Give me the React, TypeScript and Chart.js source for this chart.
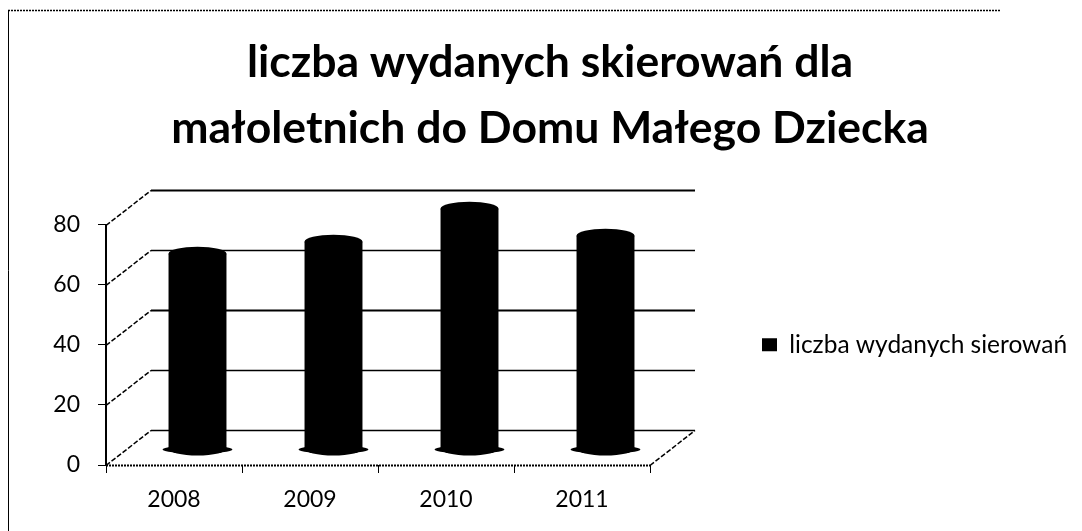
import React, { useEffect, useRef } from "react";
import { Chart, registerables } from "chart.js";

Chart.register(...registerables);

const years = ["2008", "2009", "2010", "2011"];
const referrals = [65, 69, 80, 71];
const yTicks = [0, 20, 40, 60, 80];
const titleLines = ["liczba wydanych skierowań dla", "małoletnich do Domu Małego Dziecka"];
const seriesName = "liczba wydanych sierowań";
const FONT = "Lato, Carlito, 'Open Sans', sans-serif";
const DEPTH_X = 45;
const DEPTH_Y = 35;
const BAR_DX = 23.5;
const BAR_DY = -16;
const ELLIPSE_RY = 7;

const depthPlugin = {
  id: "depth",
  beforeLayout(chart: any) {
    const legend = chart.legend;
    if (legend && !legend.__wrapped) {
      const fit = legend.fit;
      legend.fit = function () {
        fit.call(this);
        this.width = 432;
      };
      legend.__wrapped = true;
    }
  },
  afterLayout(chart: any) {
    const { legend, chartArea, titleBlock } = chart;
    legend.left = 752;
    legend.right = 1082;
    const mid = (chartArea.top + chartArea.bottom) / 2;
    legend.top = mid - legend.height / 2;
    legend.bottom = mid + legend.height / 2;
    titleBlock.left += 9;
    titleBlock.right += 9;
  },
  beforeDraw(chart: any) {
    const { ctx } = chart;
    ctx.save();
    ctx.fillStyle = "#ffffff";
    ctx.fillRect(0, 0, chart.width, chart.height);
    ctx.strokeStyle = "#000000";
    ctx.lineWidth = 1;
    ctx.beginPath();
    ctx.moveTo(8.5, 10);
    ctx.lineTo(8.5, 531);
    ctx.stroke();
    ctx.setLineDash([2, 1]);
    ctx.lineWidth = 1.5;
    ctx.beginPath();
    ctx.moveTo(8, 10.5);
    ctx.lineTo(1000, 10.5);
    ctx.stroke();
    ctx.restore();
  },
  beforeDatasetsDraw(chart: any) {
    const { ctx, chartArea, scales } = chart;
    const { left, right } = chartArea;
    const y = scales.y;
    ctx.save();
    ctx.strokeStyle = "#000000";
    yTicks.forEach((v) => {
      const py = Math.round(y.getPixelForValue(v)) + 0.5;
      ctx.lineWidth = 1.5;
      ctx.setLineDash([5, 2]);
      ctx.beginPath();
      ctx.moveTo(left, py);
      ctx.lineTo(left + DEPTH_X, py - DEPTH_Y);
      ctx.stroke();
      ctx.setLineDash([]);
      ctx.lineWidth = v === 40 || v === 80 ? 2 : 1.4;
      ctx.beginPath();
      ctx.moveTo(left + DEPTH_X, py - DEPTH_Y);
      ctx.lineTo(right + DEPTH_X, py - DEPTH_Y);
      ctx.stroke();
    });
    const base = Math.round(y.getPixelForValue(0)) + 0.5;
    ctx.lineWidth = 1.5;
    ctx.setLineDash([5, 2]);
    ctx.beginPath();
    ctx.moveTo(right, base);
    ctx.lineTo(right + DEPTH_X, base - DEPTH_Y);
    ctx.stroke();
    ctx.setLineDash([2, 1]);
    ctx.lineWidth = 2;
    ctx.beginPath();
    ctx.moveTo(left, base);
    ctx.lineTo(right, base);
    ctx.stroke();
    ctx.restore();
  },
  beforeDatasetDraw(chart: any) {
    chart.ctx.save();
    chart.ctx.translate(BAR_DX, BAR_DY);
  },
  afterDatasetDraw(chart: any, args: any) {
    const { ctx } = chart;
    const meta = chart.getDatasetMeta(args.index);
    ctx.fillStyle = "#000000";
    meta.data.forEach((bar: any) => {
      const rx = bar.width / 2;
      ctx.beginPath();
      ctx.ellipse(bar.x, bar.y, rx, ELLIPSE_RY, 0, 0, Math.PI * 2);
      ctx.fill();
      ctx.beginPath();
      ctx.ellipse(bar.x, bar.base, rx, ELLIPSE_RY, 0, 0, Math.PI * 2);
      ctx.fill();
      ctx.beginPath();
      ctx.ellipse(bar.x, bar.base + 1, rx + 6, 4, 0, 0, Math.PI * 2);
      ctx.fill();
    });
    ctx.restore();
  },
};

export default function App() {
  const ref = useRef<HTMLCanvasElement>(null);
  useEffect(() => {
    const chart = new Chart(ref.current as HTMLCanvasElement, {
      type: "bar",
      data: {
        labels: years,
        datasets: [
          {
            label: seriesName,
            data: referrals,
            backgroundColor: "#000000",
            borderWidth: 0,
            barPercentage: 0.426,
            categoryPercentage: 1,
            clip: false,
          } as any,
        ],
      },
      plugins: [depthPlugin],
      options: {
        responsive: false,
        animation: false,
        layout: { padding: { top: 0, left: 0, right: 0, bottom: 0 } },
        plugins: {
          tooltip: { enabled: false },
          title: {
            display: true,
            text: titleLines,
            color: "#000000",
            font: { family: FONT, size: 44.5, weight: "bold", lineHeight: 1.48 },
            padding: { top: 30, bottom: 63 },
          },
          legend: {
            display: true,
            position: "right",
            labels: {
              color: "#000000",
              font: { family: FONT, size: 24.5 },
              boxWidth: 15,
              boxHeight: 13,
              padding: 10,
            },
          },
        },
        scales: {
          x: {
            afterFit(s: any) {
              s.height = 66;
            },
            grid: {
              drawOnChartArea: false,
              drawTicks: true,
              tickLength: 8,
              color: "#000000",
              offset: true,
            },
            border: { color: "#000000", display: false },
            ticks: { color: "#000000", font: { family: FONT, size: 23 }, padding: 13 },
          },
          y: {
            min: 0,
            max: 80,
            afterFit(s: any) {
              s.width = 106;
            },
            afterBuildTicks(s: any) {
              s.ticks = yTicks.map((value) => ({ value }));
            },
            grid: { drawOnChartArea: false, tickLength: 8, color: "#000000" },
            border: { color: "#000000", width: 2 },
            ticks: { color: "#000000", font: { family: FONT, size: 23 }, padding: 18 },
          },
        },
      },
    } as any);
    return () => chart.destroy();
  }, []);
  return (
    <div style={{ position: "fixed", left: 0, top: 0 }}>
      <canvas ref={ref} width={1082} height={531} style={{ display: "block" }} />
    </div>
  );
}
